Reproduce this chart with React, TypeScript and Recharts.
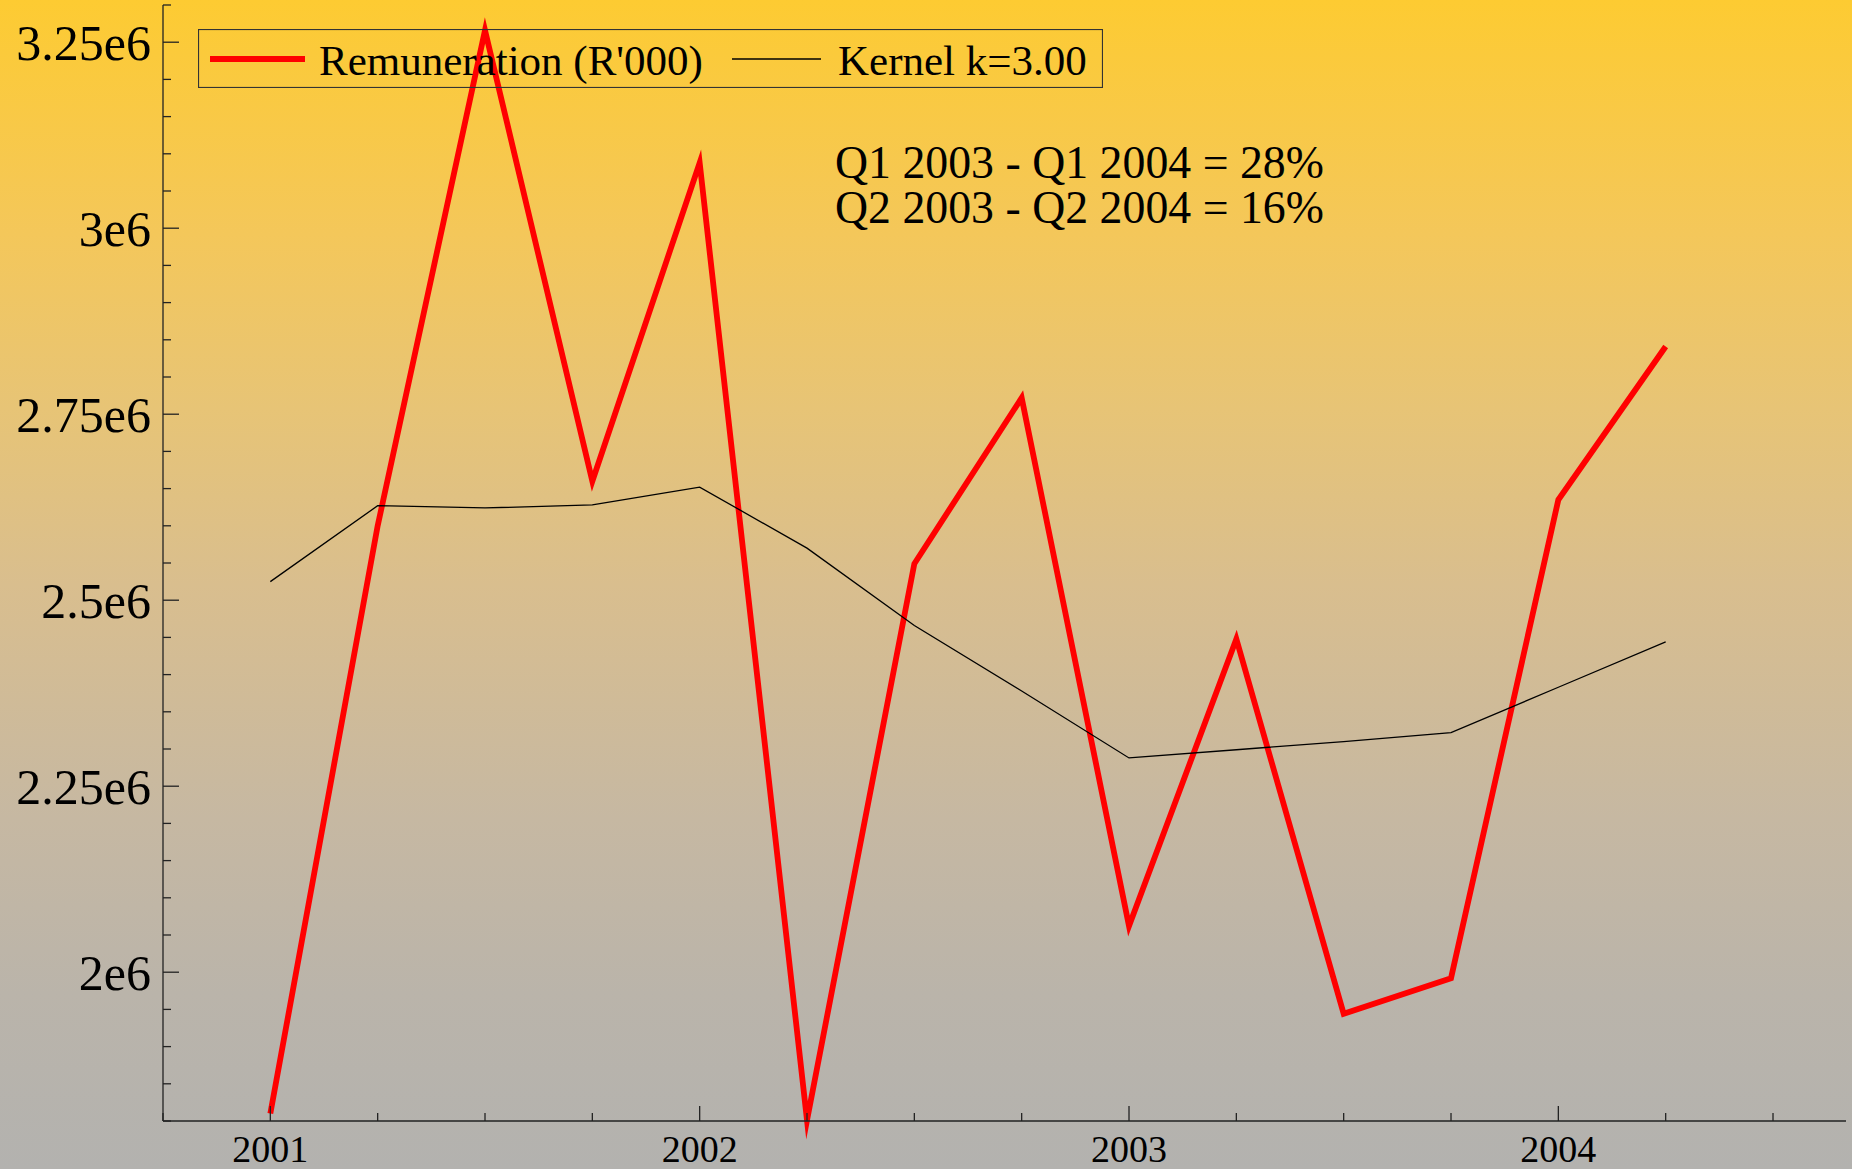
import React from 'react';
import { LineChart, Line, XAxis, YAxis, Legend } from 'recharts';

const quarters = [
  2001, 2001.25, 2001.5, 2001.75, 2002, 2002.25, 2002.5, 2002.75, 2003, 2003.25, 2003.5, 2003.75, 2004, 2004.25,
];
const remuneration = [
  1810000, 2600000, 3266000, 2660000, 3088000, 1801000, 2549000, 2772000, 2062000, 2448000, 1944000, 1992000,
  2635000, 2841000,
];
const kernel = [
  2525000, 2627000, 2624000, 2628000, 2652000, 2570000, 2466000, 2378000, 2288000, 2299000, 2310000, 2322000,
  2383000, 2444000,
];

const yMajorValues = [2000000, 2250000, 2500000, 2750000, 3000000, 3250000];
const yMajorLabels = ['2e6', '2.25e6', '2.5e6', '2.75e6', '3e6', '3.25e6'];
const xMajorValues = [2001, 2002, 2003, 2004];
const xMajorLabels = ['2001', '2002', '2003', '2004'];
const annotationLines = ['Q1 2003 - Q1 2004 = 28%', 'Q2 2003 - Q2 2004 = 16%'];

const W = 1852;
const H = 1169;
const FONT = '"Times New Roman", Times, "Liberation Serif", Tinos, "DejaVu Serif", serif';
const AXIS_COLOR = '#222';

const rows = quarters.map((t, i) => ({ t, remuneration: remuneration[i], kernel: kernel[i] }));

// minor ticks: every 0.05e6 on y, every quarter on x
const yTicks: number[] = [];
for (let k = 36; k <= 66; k++) yTicks.push(k * 50000);
const xTicks: number[] = [];
for (let k = 0; k <= 15; k++) xTicks.push(2000.75 + k * 0.25);

const YTick = (props: any) => {
  const { x, y, payload } = props;
  const idx = yMajorValues.findIndex((v) => Math.abs(v - payload.value) < 1);
  const major = idx >= 0;
  return (
    <g>
      <line x1={x} x2={x + (major ? 16 : 8)} y1={y} y2={y} stroke={AXIS_COLOR} strokeWidth={1.3} />
      {major && (
        <text x={x - 12} y={y} dy="0.35em" textAnchor="end" fontSize={50} fontFamily={FONT} fill="#000">
          {yMajorLabels[idx]}
        </text>
      )}
    </g>
  );
};

const XTick = (props: any) => {
  const { x, y, payload } = props;
  const idx = xMajorValues.findIndex((v) => Math.abs(v - payload.value) < 1e-6);
  const major = idx >= 0;
  return (
    <g>
      <line x1={x} x2={x} y1={y} y2={y - (major ? 15 : 8)} stroke={AXIS_COLOR} strokeWidth={1.3} />
      {major && (
        <text x={x} y={y + 41} textAnchor="middle" fontSize={38} fontFamily={FONT} fill="#000">
          {xMajorLabels[idx]}
        </text>
      )}
    </g>
  );
};

const renderLegend = (props: any) => {
  const items = props.payload || [];
  const red = items.find((p: any) => p.dataKey === 'remuneration');
  const black = items.find((p: any) => p.dataKey === 'kernel');
  return (
    <svg width={905} height={59} style={{ display: 'block' }}>
      <rect x={0.5} y={0.5} width={904} height={58} fill="none" stroke="#333" strokeWidth={1.2} />
      <line x1={12} x2={107} y1={30} y2={30} stroke={red?.color} strokeWidth={6} />
      <text x={121} y={46} fontSize={43} fontFamily={FONT} fill="#000">
        {red?.value}
      </text>
      <line x1={534} x2={623} y1={30} y2={30} stroke={black?.color} strokeWidth={1.6} />
      <text x={640} y={46} fontSize={43} fontFamily={FONT} fill="#000">
        {black?.value}
      </text>
    </svg>
  );
};

export default function App() {
  return (
    <div
      style={{
        position: 'absolute',
        left: 0,
        top: 0,
        width: W,
        height: H,
        overflow: 'hidden',
        background:
          'linear-gradient(to bottom, #FDCB32 0%, #F4C75A 20%, #E7C476 35%, #D9BE8E 50%, #C6B8A2 70%, #BAB4AA 85%, #B3B2AF 100%)',
      }}
    >
      <LineChart width={W} height={H} data={rows} margin={{ top: 5, right: 6, left: 0, bottom: 0 }}>
        <XAxis
          type="number"
          dataKey="t"
          domain={[2000.75, 2004.67]}
          ticks={xTicks}
          interval={0}
          tick={XTick}
          tickSize={0}
          tickMargin={0}
          tickLine={false}
          axisLine={{ stroke: AXIS_COLOR, strokeWidth: 1.3 }}
          height={48}
        />
        <YAxis
          type="number"
          domain={[1800000, 3300000]}
          ticks={yTicks}
          interval={0}
          tick={YTick}
          tickSize={0}
          tickMargin={0}
          tickLine={false}
          axisLine={{ stroke: AXIS_COLOR, strokeWidth: 1.3 }}
          width={163}
        />
        <Legend
          content={renderLegend}
          layout="horizontal"
          verticalAlign="middle"
          wrapperStyle={{ left: 198, top: 29, width: 905, height: 59 }}
        />
        <Line
          type="linear"
          dataKey="remuneration"
          name="Remuneration (R'000)"
          stroke="#FF0000"
          strokeWidth={5.8}
          strokeLinejoin="miter"
          strokeMiterlimit={10}
          dot={false}
          activeDot={false}
          isAnimationActive={false}
        />
        <Line
          type="linear"
          dataKey="kernel"
          name="Kernel k=3.00"
          stroke="#000000"
          strokeWidth={1.3}
          dot={false}
          activeDot={false}
          isAnimationActive={false}
        />
      </LineChart>
      {annotationLines.map((s, i) => (
        <div
          key={s}
          style={{
            position: 'absolute',
            left: 835,
            top: 143 + i * 45,
            fontFamily: FONT,
            fontSize: 45.8,
            lineHeight: '40px',
            color: '#000',
            whiteSpace: 'pre',
          }}
        >
          {s}
        </div>
      ))}
    </div>
  );
}
